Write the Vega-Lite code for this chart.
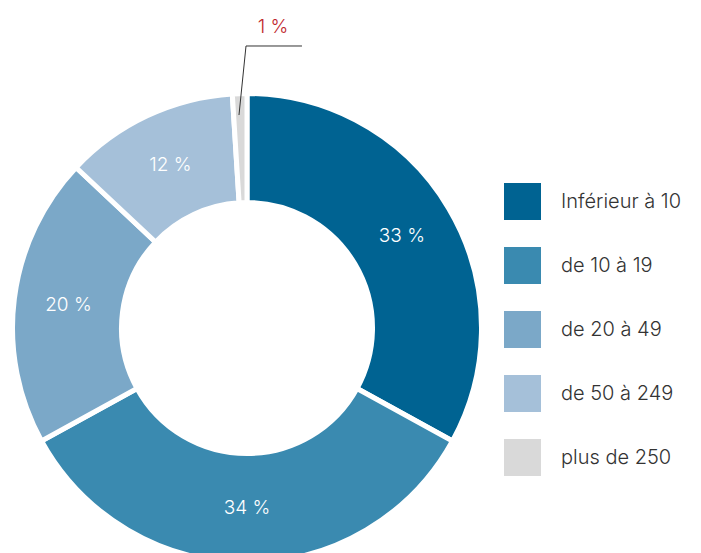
{
  "$schema": "https://vega.github.io/schema/vega-lite/v6.json",
  "autosize": "none",
  "width": 494,
  "height": 450,
  "padding": {"left": 0, "top": 103, "right": 207, "bottom": 0},
  "background": "white",
  "config": {"view": {"stroke": null}, "font": "Inter"},
  "datasets": {
    "parts": [
      {"cat": "Inférieur à 10", "pct": 33, "ordre": 1, "label": "33 %"},
      {"cat": "de 10 à 19", "pct": 34, "ordre": 2, "label": "34 %"},
      {"cat": "de 20 à 49", "pct": 20, "ordre": 3, "label": "20 %"},
      {"cat": "de 50 à 249", "pct": 12, "ordre": 4, "label": "12 %"},
      {"cat": "plus de 250", "pct": 1, "ordre": 5, "label": "1 %"}
    ],
    "leader": [
      {"ax": -0.0345, "ay": 0.918, "o": 1},
      {"ax": -0.0043, "ay": 1.2155, "o": 2},
      {"ax": 0.237, "ay": 1.2155, "o": 3}
    ]
  },
  "layer": [
    {
      "data": {"name": "parts"},
      "mark": {"type": "arc", "outerRadius": 234.5, "innerRadius": 125.5, "stroke": "white", "strokeWidth": 5},
      "encoding": {
        "theta": {"field": "pct", "type": "quantitative", "stack": true},
        "order": {"field": "ordre", "type": "quantitative"},
        "color": {
          "field": "cat", "type": "nominal",
          "scale": {
            "domain": ["Inférieur à 10", "de 10 à 19", "de 20 à 49", "de 50 à 249", "plus de 250"],
            "range": ["#006392", "#3a8ab0", "#7ba8c8", "#a5c0d9", "#d9d9d9"]
          },
          "legend": {
            "orient": "none", "legendX": 504, "legendY": 80, "title": null,
            "symbolType": "square", "symbolSize": 1369, "symbolStrokeWidth": 0,
            "labelFontSize": 20, "labelFontWeight": 300, "labelColor": "#333333", "labelOffset": 20,
            "rowPadding": 27, "labelLimit": 300
          }
        }
      }
    },
    {
      "data": {"name": "parts"},
      "transform": [{"filter": "datum.ordre < 5"}],
      "mark": {"type": "text", "radius": 180, "fontSize": 19, "fontWeight": 300, "color": "white"},
      "encoding": {
        "theta": {"field": "pct", "type": "quantitative", "stack": true},
        "order": {"field": "ordre", "type": "quantitative"},
        "text": {"field": "label"}
      }
    },
    {
      "data": {"name": "leader"},
      "mark": {"type": "line", "color": "#333333", "strokeWidth": 1},
      "encoding": {
        "x": {"field": "ax", "type": "quantitative", "scale": {"domain": [-1.0647, 1.0647]}, "axis": null},
        "y": {"field": "ay", "type": "quantitative", "scale": {"domain": [-0.9698, 0.9698]}, "axis": null},
        "order": {"field": "o"}
      }
    },
    {
      "data": {"name": "parts"},
      "transform": [{"filter": "datum.ordre == 5"}],
      "mark": {"type": "text", "fontSize": 19, "fontWeight": 300, "color": "#c0272d", "baseline": "middle"},
      "encoding": {
        "x": {"datum": 0.112, "type": "quantitative", "scale": {"domain": [-1.0647, 1.0647]}, "axis": null},
        "y": {"datum": 1.297, "type": "quantitative", "scale": {"domain": [-0.9698, 0.9698]}, "axis": null},
        "text": {"field": "label"}
      }
    }
  ]
}
